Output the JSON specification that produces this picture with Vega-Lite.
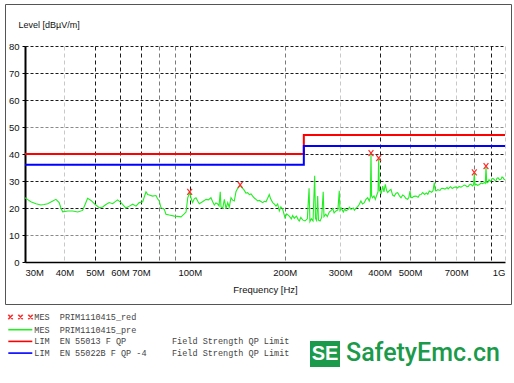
{
  "$schema": "https://vega.github.io/schema/vega-lite/v6.json",
  "padding": {"left": 4, "top": 3, "right": 4, "bottom": 7},
  "bounds": "flush",
  "spacing": 0,
  "datasets": {
    "trace": [
      {"f":30.0,"level":23.8},{"f":30.7,"level":23.0},{"f":31.3,"level":22.3},{"f":32.5,"level":21.6},{"f":33.7,"level":21.1},{"f":34.5,"level":21.3},{"f":35.4,"level":21.6},{"f":36.5,"level":22.4},{"f":37.6,"level":23.2},{"f":38.5,"level":22.0},{"f":39.0,"level":20.0},{"f":39.5,"level":18.6},{"f":41.0,"level":18.9},{"f":42.5,"level":18.9},{"f":44.1,"level":18.5},{"f":45.7,"level":19.1},{"f":46.6,"level":21.5},{"f":47.4,"level":23.6},{"f":48.6,"level":22.8},{"f":50.0,"level":21.4},{"f":51.6,"level":20.1},{"f":52.9,"level":20.4},{"f":54.2,"level":21.3},{"f":55.5,"level":22.0},{"f":56.9,"level":21.6},{"f":59.0,"level":23.0},{"f":60.5,"level":22.0},{"f":61.8,"level":20.8},{"f":62.7,"level":20.0},{"f":64.3,"level":20.7},{"f":65.9,"level":21.4},{"f":67.5,"level":20.7},{"f":69.1,"level":22.0},{"f":70.9,"level":22.3},{"f":72.6,"level":26.0},{"f":73.5,"level":25.0},{"f":74.4,"level":24.8},{"f":76.2,"level":24.4},{"f":78.1,"level":24.6},{"f":79.0,"level":23.4},{"f":80.0,"level":22.6},{"f":81.0,"level":20.1},{"f":83.0,"level":19.5},{"f":84.0,"level":17.7},{"f":86.1,"level":17.4},{"f":89.3,"level":17.0},{"f":91.5,"level":16.9},{"f":93.8,"level":16.7},{"f":96.0,"level":17.8},{"f":97.3,"level":18.5},{"f":98.5,"level":23.8},{"f":100.0,"level":25.7},{"f":101.0,"level":23.5},{"f":102.1,"level":22.0},{"f":103.3,"level":23.4},{"f":104.6,"level":23.8},{"f":106.0,"level":22.5},{"f":107.2,"level":21.6},{"f":110.0,"level":22.4},{"f":112.6,"level":23.2},{"f":114.5,"level":23.0},{"f":116.7,"level":23.8},{"f":118.2,"level":22.3},{"f":119.6,"level":21.1},{"f":121.0,"level":21.9},{"f":122.6,"level":21.5},{"f":123.8,"level":20.8},{"f":124.9,"level":26.0},{"f":125.6,"level":20.4},{"f":127.2,"level":20.0},{"f":128.7,"level":23.2},{"f":130.3,"level":19.8},{"f":131.9,"level":22.0},{"f":133.4,"level":20.3},{"f":135.1,"level":23.8},{"f":136.7,"level":22.9},{"f":138.4,"level":22.6},{"f":140.1,"level":26.0},{"f":141.9,"level":27.3},{"f":143.2,"level":27.8},{"f":144.6,"level":28.3},{"f":146.0,"level":27.6},{"f":148.2,"level":26.9},{"f":150.7,"level":25.5},{"f":152.6,"level":25.7},{"f":154.5,"level":25.0},{"f":156.4,"level":25.2},{"f":158.3,"level":24.4},{"f":160.2,"level":23.7},{"f":162.2,"level":23.2},{"f":164.2,"level":22.6},{"f":166.2,"level":22.8},{"f":168.2,"level":22.4},{"f":170.3,"level":22.0},{"f":172.4,"level":22.5},{"f":174.5,"level":22.3},{"f":176.6,"level":23.6},{"f":178.7,"level":25.0},{"f":180.5,"level":23.4},{"f":183.2,"level":22.0},{"f":185.5,"level":21.4},{"f":187.7,"level":20.7},{"f":190.0,"level":21.5},{"f":192.3,"level":18.9},{"f":194.5,"level":20.4},{"f":197.1,"level":19.5},{"f":200.4,"level":16.4},{"f":203.0,"level":17.8},{"f":206.8,"level":17.0},{"f":210.0,"level":16.0},{"f":212.0,"level":17.2},{"f":214.5,"level":16.2},{"f":218.0,"level":17.0},{"f":220.5,"level":15.8},{"f":222.5,"level":15.2},{"f":225.0,"level":16.5},{"f":228.0,"level":15.6},{"f":232.0,"level":15.2},{"f":236.0,"level":16.0},{"f":239.0,"level":27.3},{"f":240.5,"level":15.0},{"f":243.0,"level":16.0},{"f":246.0,"level":15.2},{"f":249.0,"level":31.9},{"f":250.5,"level":16.2},{"f":252.5,"level":15.4},{"f":254.5,"level":24.4},{"f":256.0,"level":15.5},{"f":259.0,"level":15.2},{"f":262.0,"level":16.5},{"f":265.0,"level":26.0},{"f":266.5,"level":16.8},{"f":270.0,"level":17.7},{"f":273.0,"level":16.8},{"f":277.0,"level":18.5},{"f":280.5,"level":19.0},{"f":284.0,"level":19.8},{"f":287.0,"level":18.2},{"f":291.0,"level":18.9},{"f":295.0,"level":19.3},{"f":298.0,"level":26.4},{"f":299.5,"level":19.2},{"f":302.0,"level":20.0},{"f":307.0,"level":18.5},{"f":310.0,"level":19.6},{"f":313.0,"level":19.0},{"f":318.0,"level":19.5},{"f":321.0,"level":20.3},{"f":324.6,"level":19.5},{"f":330.0,"level":20.0},{"f":333.0,"level":19.2},{"f":336.7,"level":19.9},{"f":341.0,"level":20.5},{"f":345.0,"level":21.4},{"f":349.0,"level":22.6},{"f":353.0,"level":21.5},{"f":358.0,"level":22.0},{"f":362.0,"level":23.2},{"f":366.7,"level":23.8},{"f":371.0,"level":22.6},{"f":374.0,"level":24.0},{"f":375.7,"level":40.0},{"f":377.3,"level":24.5},{"f":380.4,"level":23.8},{"f":384.0,"level":24.5},{"f":387.7,"level":23.2},{"f":392.5,"level":25.0},{"f":395.5,"level":26.0},{"f":397.4,"level":38.3},{"f":399.3,"level":26.5},{"f":401.2,"level":26.3},{"f":405.0,"level":25.5},{"f":409.2,"level":28.1},{"f":413.0,"level":26.0},{"f":417.1,"level":28.8},{"f":421.0,"level":26.5},{"f":424.5,"level":25.7},{"f":430.0,"level":26.5},{"f":434.8,"level":26.9},{"f":440.0,"level":24.8},{"f":445.4,"level":24.4},{"f":451.0,"level":25.5},{"f":456.6,"level":25.7},{"f":462.0,"level":24.6},{"f":467.8,"level":23.8},{"f":473.5,"level":24.8},{"f":479.2,"level":24.4},{"f":485.0,"level":23.5},{"f":491.2,"level":23.2},{"f":495.5,"level":24.0},{"f":499.6,"level":26.3},{"f":503.2,"level":24.0},{"f":506.9,"level":23.8},{"f":514.0,"level":24.3},{"f":521.9,"level":24.4},{"f":530.0,"level":24.0},{"f":536.0,"level":24.9},{"f":541.4,"level":25.0},{"f":548.1,"level":25.7},{"f":556.0,"level":25.0},{"f":563.0,"level":25.6},{"f":569.0,"level":25.1},{"f":575.2,"level":26.3},{"f":585.0,"level":25.8},{"f":591.0,"level":26.4},{"f":596.6,"level":29.4},{"f":600.0,"level":26.8},{"f":604.0,"level":26.3},{"f":612.0,"level":26.8},{"f":622.0,"level":26.5},{"f":628.0,"level":27.2},{"f":634.3,"level":27.3},{"f":645.0,"level":27.0},{"f":655.0,"level":27.6},{"f":660.0,"level":27.1},{"f":665.6,"level":27.5},{"f":672.0,"level":27.9},{"f":680.0,"level":27.2},{"f":690.0,"level":27.7},{"f":699.0,"level":27.8},{"f":707.0,"level":27.4},{"f":715.0,"level":28.0},{"f":725.0,"level":27.7},{"f":734.1,"level":28.1},{"f":742.0,"level":28.5},{"f":750.0,"level":28.3},{"f":757.0,"level":27.9},{"f":765.0,"level":28.0},{"f":772.0,"level":28.6},{"f":780.0,"level":28.8},{"f":788.0,"level":28.2},{"f":795.0,"level":28.6},{"f":799.1,"level":33.0},{"f":803.0,"level":28.5},{"f":809.0,"level":28.8},{"f":818.0,"level":28.4},{"f":830.0,"level":28.7},{"f":840.0,"level":29.3},{"f":849.6,"level":29.0},{"f":860.0,"level":29.4},{"f":866.0,"level":29.1},{"f":870.4,"level":35.2},{"f":875.0,"level":29.4},{"f":881.2,"level":29.4},{"f":890.0,"level":30.5},{"f":896.0,"level":30.0},{"f":902.7,"level":30.0},{"f":910.0,"level":30.9},{"f":920.0,"level":30.8},{"f":928.0,"level":30.3},{"f":936.3,"level":30.2},{"f":943.0,"level":31.0},{"f":950.0,"level":31.2},{"f":960.0,"level":30.5},{"f":971.1,"level":30.6},{"f":978.0,"level":31.5},{"f":985.0,"level":31.3},{"f":993.0,"level":30.6},{"f":1000.0,"level":30.5}
    ],
    "limits": [
      {"series":"LIM EN 55013 F QP","f":30,"level":40},
      {"series":"LIM EN 55013 F QP","f":230,"level":47},
      {"series":"LIM EN 55013 F QP","f":1000,"level":47},
      {"series":"LIM EN 55022B F QP -4","f":30,"level":36},
      {"series":"LIM EN 55022B F QP -4","f":230,"level":43},
      {"series":"LIM EN 55022B F QP -4","f":1000,"level":43}
    ],
    "peaks": [
      {"f":99.9,"level":26.0},{"f":144.5,"level":28.6},{"f":375.7,"level":40.3},{"f":397.4,"level":38.5},{"f":799.1,"level":33.2},{"f":870.4,"level":35.5}
    ]
  },
  "vconcat": [
    {
      "width": 506,
      "height": 300,
      "encoding": {
        "x": {
          "field": "f", "type": "quantitative",
          "scale": {"type": "log", "domain": [30, 1000], "range": [20, 500], "nice": false},
          "axis": {
            "orient": "bottom", "offset": -42,
            "values": [30,40,50,60,70,80,90,100,200,300,400,500,600,700,800,900,1000],
            "labelExpr": "indexof([80,90,600,800,900], datum.value) >= 0 ? '' : (datum.value >= 1000 ? '1G' : datum.value + 'M')",
            "labelFlush": true, "labelOverlap": false, "labelPadding": 5, "labelFontSize": 9.5,
            "ticks": false, "domainColor": "#000", "domainWidth": 1.5,
            "grid": true, "gridDash": [4, 3], "gridWidth": 1,
            "gridColor": {"condition": [{"test": "indexof([50,60,70,100,400,900], datum.value) >= 0", "value": "#1a1a1a"}, {"test": "indexof([40,300,700,1000], datum.value) >= 0", "value": "#c8c8c8"}], "value": "#7a7a7a"},
            "title": "Frequency [Hz]", "titleFontSize": 9.5, "titleY": 30, "titleBaseline": "alphabetic"
          }
        },
        "y": {
          "field": "level", "type": "quantitative",
          "scale": {"domain": [0, 80], "range": [258, 42], "nice": false, "zero": false},
          "axis": {
            "orient": "left", "offset": -20,
            "values": [0,10,20,30,40,50,60,70,80],
            "labelFontSize": 9.5, "labelPadding": 3, "tickSize": 3, "tickColor": "#000",
            "domainColor": "#000", "domainWidth": 2,
            "grid": true, "gridDash": [3, 2], "gridWidth": 1,
            "gridColor": {"condition": {"test": "datum.value == 10 || datum.value == 50", "value": "#8a8a8a"}, "value": "#1a1a1a"},
            "title": "Level [dBµV/m]", "titleAngle": 0, "titleAlign": "left", "titleBaseline": "alphabetic",
            "titleX": -7, "titleY": 23, "titleFontSize": 9
          }
        }
      },
      "layer": [
        {
          "data": {"name": "limits"},
          "mark": {"type": "line", "interpolate": "step-after", "strokeWidth": 2},
          "encoding": {
            "color": {
              "field": "series", "type": "nominal",
              "scale": {"domain": ["MES PRIM1110415_red", "MES PRIM1110415_pre", "LIM EN 55013 F QP", "LIM EN 55022B F QP -4"], "range": ["#ff2a2a", "#22ee22", "#ff0000", "#0000ff"]},
              "legend": {
                "orient": "none", "legendX": 3.3, "legendY": 307.5, "title": null, "direction": "vertical",
                "symbolSize": 81, "symbolStrokeWidth": 1.6, "rowPadding": 1.7, "labelOffset": 15, "padding": 0,
                "symbolType": {"expr": "datum.value == 'MES PRIM1110415_red' ? 'M-1.222,-0.49L-0.244,0.49M-1.222,0.49L-0.244,-0.49M1,-0.49L1.978,0.49M1,0.49L1.978,-0.49M3.222,-0.49L4.2,0.49M3.222,0.49L4.2,-0.49' : 'M-1.222,0H4.111'"},
                "symbolFillColor": "transparent",
                "labelFont": "Liberation Mono", "labelFontSize": 8.5, "labelColor": "#444", "labelLimit": 400,
                "labelExpr": "datum.label == 'MES PRIM1110415_red' ? 'MES\u00a0\u00a0PRIM1110415_red' : datum.label == 'MES PRIM1110415_pre' ? 'MES\u00a0\u00a0PRIM1110415_pre' : datum.label == 'LIM EN 55013 F QP' ? 'LIM\u00a0\u00a0EN 55013 F QP\u00a0\u00a0\u00a0\u00a0\u00a0\u00a0\u00a0\u00a0\u00a0Field Strength QP Limit' : 'LIM\u00a0\u00a0EN 55022B F QP -4\u00a0\u00a0\u00a0\u00a0\u00a0Field Strength QP Limit'"
              }
            }
          }
        },
        {
          "data": {"name": "trace"},
          "mark": {"type": "line", "strokeWidth": 1.1},
          "encoding": {
            "color": {"datum": "MES PRIM1110415_pre"},
            "opacity": {
              "datum": "SE",
              "scale": {"type": "point", "domain": ["SE"], "range": [1, 1]},
              "legend": {
                "orient": "none", "legendX": 305, "legendY": 335, "padding": 0,
                "title": "SafetyEmc.cn", "titleOrient": "right", "titlePadding": 6,
                "titleFont": "Roboto", "titleFontSize": 25, "titleFontWeight": 500, "titleColor": "#1a9a4a",
                "titleAnchor": "middle", "titleBaseline": "middle",
                "symbolType": "M-1,-0.867H1V0.867H-1Z", "symbolSize": 900, "symbolStrokeWidth": 0,
                "symbolFillColor": "#1a9a4a", "symbolStrokeColor": "#1a9a4a", "symbolOpacity": 1,
                "labelColor": "#ffffff", "labelFont": "Liberation Sans", "labelFontWeight": "bold", "labelFontSize": 20,
                "labelOffset": -15, "labelAlign": "center"
              }
            }
          }
        },
        {
          "data": {"name": "peaks"},
          "mark": {"type": "point", "shape": "M-0.8,-1L0.8,1M-0.8,1L0.8,-1", "filled": false, "size": 36, "strokeWidth": 1.2, "opacity": 1},
          "encoding": {
            "color": {"datum": "MES PRIM1110415_red"}
          }
        }
      ]
    },
    {
      "width": 506,
      "height": 73,
      "data": {"values": []},
      "mark": "point"
    }
  ],
  "config": {
    "view": {"stroke": "#555", "strokeWidth": 1},
    "font": "Liberation Sans Narrow, Liberation Sans",
    "axis": {
      "labelFont": "Liberation Sans Narrow, Liberation Sans",
      "titleFont": "Liberation Sans Narrow, Liberation Sans",
      "labelColor": "#111", "titleColor": "#111", "titleFontWeight": "normal"
    },
    "legend": {"padding": 0}
  }
}
